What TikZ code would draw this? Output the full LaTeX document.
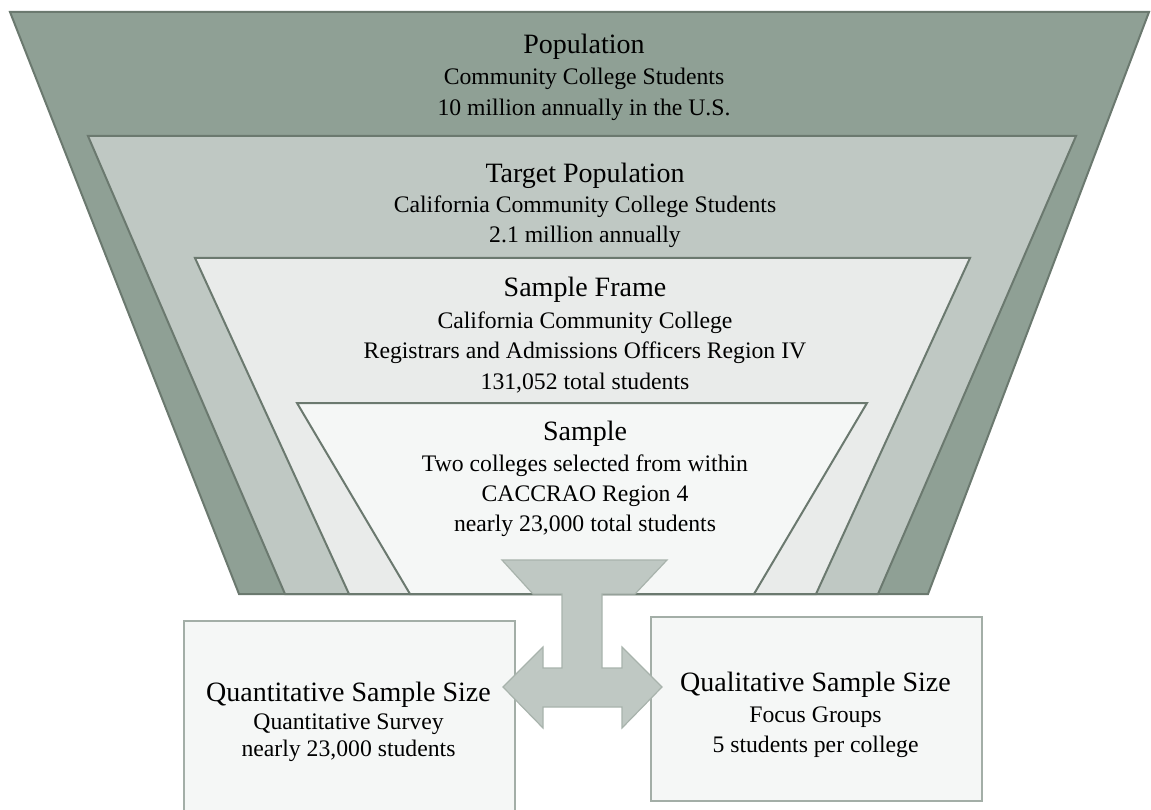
\documentclass[tikz,border=0pt]{standalone}
\usepackage{fontspec}
\setmainfont{Liberation Serif}
\definecolor{popfill}{HTML}{8FA095}
\definecolor{targetfill}{HTML}{BFC8C3}
\definecolor{framefill}{HTML}{E9EBEA}
\definecolor{samplefill}{HTML}{F5F7F6}
\definecolor{layeredge}{HTML}{6B796F}
\definecolor{boxedge}{HTML}{A3AEA7}
\definecolor{forkedge}{HTML}{A8B3AC}
\begin{document}
\begin{tikzpicture}[x=1pt, y=-1pt,
      layer/.style={draw=layeredge, line width=2pt},
      headline/.style={font=\fontsize{28}{30}\selectfont, anchor=base, inner sep=0pt},
      detail/.style={font=\fontsize{23.7}{30}\selectfont, anchor=base, inner sep=0pt},
      sizebox/.style={draw=boxedge, fill=samplefill, line width=2pt, anchor=north west},
      fork/.style={draw=forkedge, fill=targetfill, line width=1.2pt}]
   \useasboundingbox (0,0) rectangle (1151,810);
   \begin{scope}
      % funnel layers: name/top y/top left/top right/bottom left/bottom right/fill
      \def \Layers {
         pop/12/10/1149/239/928/popfill,
         target/136/88/1076/285/878/targetfill,
         frame/258/195/970/349/816/framefill,
         sample/403/297/867/410/754/samplefill}
      \foreach \n / \ty / \tl / \tr / \bl / \br / \f in \Layers {
         \path[layer, fill=\f] (\tl,\ty) -- (\tr,\ty) -- (\br,594) -- (\bl,594) -- cycle;
      }
   \end{scope}
   % the two sample size boxes
   \node[sizebox, minimum width=331pt, minimum height=205pt] (quant) at (183,620) {};
   \node[sizebox, minimum width=331pt, minimum height=184pt] (qual) at (650,616) {};
   % split arrow from the funnel to both boxes
   \draw[fork] (502,560) -- (667,560) -- (635,594) -- (602,594) -- (602,668)
      -- (622,668) -- (622,647) -- (662,687) -- (622,728) -- (622,707)
      -- (543,707) -- (543,728) -- (503,687) -- (543,647) -- (543,668)
      -- (562,668) -- (562,594) -- (533,594) -- cycle;
   \begin{scope}
      \def \Captions {
         pop/584/54/headline/Population,
         pop/584/85/detail/Community College Students,
         pop/584/116/detail/10 million annually in the U.S.,
         target/585/183/headline/Target Population,
         target/585/213/detail/California Community College Students,
         target/585/243/detail/2.1 million annually,
         frame/585/297/headline/Sample Frame,
         frame/585/328/detail/California Community College,
         frame/585/358/detail/Registrars and Admissions Officers Region IV,
         frame/585/389/detail/{131,052 total students},
         sample/585/440/headline/Sample,
         sample/585/471/detail/Two colleges selected from within,
         sample/585/501/detail/CACCRAO Region 4,
         sample/585/531/detail/{nearly 23,000 total students},
         quant/348.5/701/headline/Quantitative Sample Size,
         quant/348.5/729/detail/Quantitative Survey,
         quant/348.5/756/detail/{nearly 23,000 students},
         qual/815.5/691/headline/Qualitative Sample Size,
         qual/815.5/722/detail/Focus Groups,
         qual/815.5/752/detail/5 students per college}
      \foreach \n / \x / \y / \s / \t [count=\i] in \Captions {
         \node[\s] (\n-\i) at (\x,\y) {\t};
      }
   \end{scope}
\end{tikzpicture}
\end{document}
